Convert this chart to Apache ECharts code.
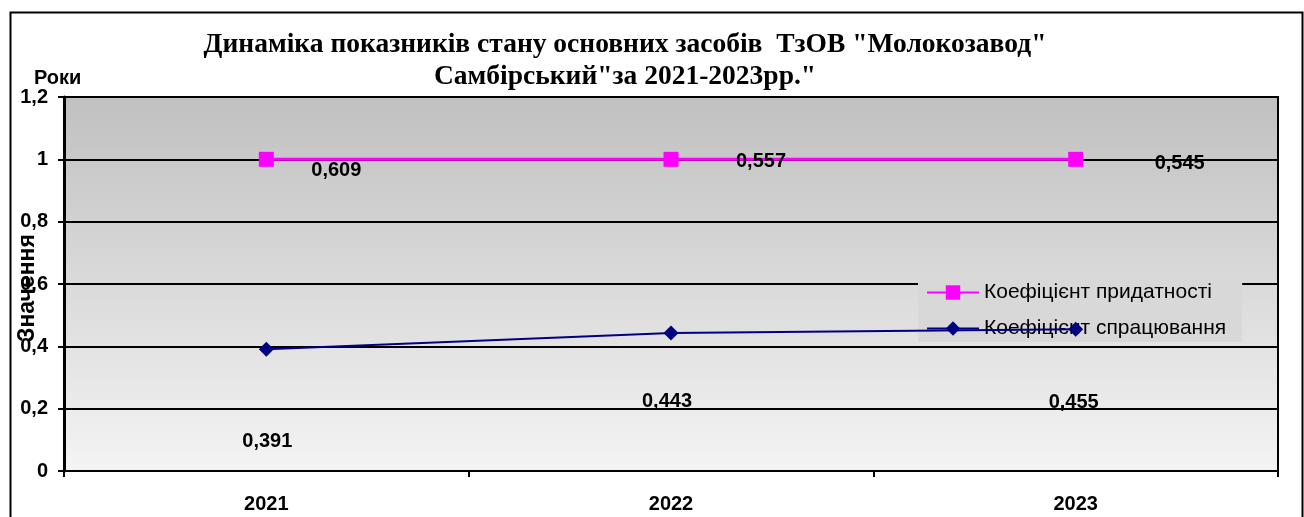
<!DOCTYPE html>
<html>
<head>
<meta charset="utf-8">
<script src="https://cdn.jsdelivr.net/npm/echarts@6/dist/echarts.min.js"></script>
<style>
html,body{margin:0;padding:0;background:#fff;}
#c{width:1304px;height:517px;}
</style>
</head>
<body>
<div id="c"></div>
<script>
// ---- data ----
const categories = ['2021', '2022', '2023'];
const seriesNames = ['Коефіцієнт придатності', 'Коефіцієнт спрацювання'];
const pridatnostiValues = [1, 1, 1];
const pridatnostiLabels = ['0,609', '0,557', '0,545'];
const spratsValues = [0.391, 0.443, 0.455];
const spratsLabels = ['0,391', '0,443', '0,455'];
const yTicks = ['0', '0,2', '0,4', '0,6', '0,8', '1', '1,2'];
const yAxisTitle = 'Значення';
const xAxisTitle = 'Роки';
const titleText = 'Динаміка показників стану основних засобів  ТзОВ "Молокозавод"\nСамбірський"за 2021-2023рр."';

// label offsets (style only)
const offP = [[70, 11], [90, 2], [104, 4]];
const offS = [[1, 92], [-4, 69], [-2, 73]];

const chart = echarts.init(document.getElementById('c'), null, {renderer: 'canvas'});
const labelFont = {fontFamily: 'Arial, Liberation Sans', fontWeight: 'bold', fontSize: 20, color: '#000'};

const option = {
  animation: false,
  backgroundColor: '#fff',
  title: [{
    text: titleText,
    left: 620, top: 24, textAlign: 'center',
    textStyle: {fontFamily: 'Liberation Serif, Times New Roman', fontWeight: 'bold', fontSize: 27.5, lineHeight: 32, color: '#000'}
  }, {
    text: xAxisTitle, left: 29, top: 63,
    textStyle: {fontFamily: 'Liberation Sans, Arial', fontWeight: 'bold', fontSize: 20, color: '#000'}
  }],
  graphic: [{
    type: 'rect', left: 8, top: 10, z: -10, silent: true,
    shape: {width: 1292, height: 520},
    style: {fill: 'none', stroke: '#000', lineWidth: 2}
  }, {
    type: 'text', x: 28, y: 288, rotation: Math.PI / 2, z: 100, silent: true,
    style: {text: yAxisTitle, align: 'center', verticalAlign: 'middle',
      font: 'bold 23px "Liberation Sans", Arial', fill: '#000'}
  }],
  grid: {
    left: 64, top: 97, right: 26, bottom: 46,
    outerBoundsMode: 'none',
    containLabel: false,
    show: true,
    backgroundColor: {type: 'linear', x: 0, y: 0, x2: 0, y2: 1,
      colorStops: [{offset: 0, color: '#c0c0c0'}, {offset: 1, color: '#f4f4f4'}]},
    borderColor: '#000', borderWidth: 2
  },
  legend: {
    orient: 'vertical', left: 918, top: 279,
    itemWidth: 52, itemHeight: 18, itemGap: 15,
    padding: [3, 16, 3, 8],
    backgroundColor: '#d8d8d8',
    textStyle: {fontFamily: 'Liberation Sans, Arial', fontSize: 21, color: '#000'},
    data: seriesNames
  },
  xAxis: {
    type: 'category', data: categories, boundaryGap: true,
    axisLine: {show: true, lineStyle: {color: '#000', width: 2}},
    axisTick: {show: true, interval: 0, length: 6, lineStyle: {color: '#000', width: 2}},
    axisLabel: Object.assign({margin: 23}, labelFont),
    splitLine: {show: false}
  },
  yAxis: {
    type: 'value', min: 0, max: 1.2, interval: 0.2,
    axisLine: {show: true, lineStyle: {color: '#000', width: 3}},
    axisTick: {show: true, length: 6, lineStyle: {color: '#000', width: 2}},
    axisLabel: Object.assign({margin: 16, formatter: (v, i) => yTicks[i]}, labelFont),
    splitLine: {show: true, lineStyle: {color: '#000', width: 2}}
  },
  series: [{
    name: seriesNames[0], type: 'line', z: 10,
    symbol: 'rect', symbolSize: 15,
    itemStyle: {color: '#ff00ff'},
    lineStyle: {color: '#ff00ff', width: 3},
    data: pridatnostiValues.map((v, i) => ({
      value: v,
      label: {show: true, position: 'inside', offset: offP[i], formatter: pridatnostiLabels[i]}
    })),
    label: Object.assign({show: true}, labelFont)
  }, {
    name: seriesNames[1], type: 'line', z: 10,
    symbol: 'diamond', symbolSize: [15, 15],
    itemStyle: {color: '#000080'},
    lineStyle: {color: '#000080', width: 2},
    data: spratsValues.map((v, i) => ({
      value: v,
      label: {show: true, position: 'inside', offset: offS[i], formatter: spratsLabels[i]}
    })),
    label: Object.assign({show: true}, labelFont)
  }]
};
chart.setOption(option);
</script>
</body>
</html>
